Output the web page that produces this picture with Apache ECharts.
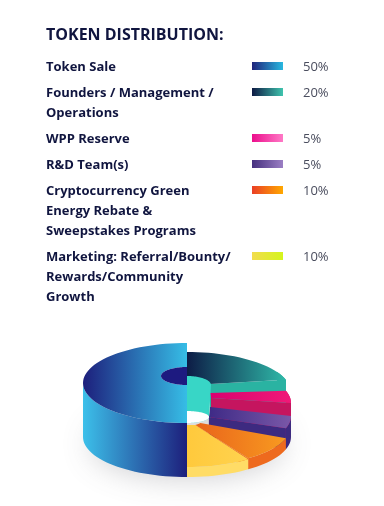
<!DOCTYPE html>
<html>
<head>
<meta charset="utf-8">
<style>
  html, body { margin: 0; padding: 0; background: #fff; }
  #chart { width: 384px; height: 506px; }
</style>
<script src="https://cdn.jsdelivr.net/npm/echarts@6/dist/echarts.min.js"></script>
</head>
<body>
<div id="chart"></div>
<script>
var chartTitle = "TOKEN DISTRIBUTION:";
var categories = [
  ["Token Sale"],
  ["Founders / Management /", "Operations"],
  ["WPP Reserve"],
  ["R&D Team(s)"],
  ["Cryptocurrency Green", "Energy Rebate &", "Sweepstakes Programs"],
  ["Marketing: Referral/Bounty/", "Rewards/Community", "Growth"],
];
var shares = [50, 20, 5, 5, 10, 10];

// 图例色条的渐变
var swatchColors = [
  ["#20247c", "#29b8e0"],
  ["#0e1a44", "#3fc4ae"],
  ["#ec0e8c", "#ff79c6"],
  ["#46307f", "#9b7fc4"],
  ["#ea3f26", "#ffa800"],
  ["#f2dc4e", "#d4f51c"],
];

// 每一块的立体样式:顶面渐变、侧面颜色、顶面中心 y、内缘两端的 y、内缘横向半径
var sliceStyles = [
  { top: ["#1d1f7c", "#36bde6"], side: ["#3cc0ea", "#1d1f7c"], topY: 383, inner: [376, 376], innerRx: 26 },
  { top: ["#0d1c46", "#2fb9a8"], side: ["#2ab3a2", "#2ab3a2"], topY: 392, inner: [376, 384], innerRx: 24 },
  { top: ["#d9006f", "#f01a78"], side: ["#c5155f", "#c5155f"], topY: 403, inner: [393, 398], innerRx: 24 },
  { top: ["#3e2a86", "#7a58a8"], side: ["#3d2a80", "#3d2a80"], topY: 416, inner: [407, 417], innerRx: 23 },
  { top: ["#e9641b", "#f89a20"], side: ["#ee6a1e", "#ee6a1e"], topY: 426, inner: [423, 425], innerRx: 14 },
  { top: ["#ffc93c", "#ffd34f"], side: ["#ffdc66", "#ffd650"], topY: 427, inner: [425, 425], innerRx: 14 },
];

var centerX = 187;
var radiusX = 104;
var radiusY = 40;
var baseY = 437;
var holeRx = 24;
var holeRy = 9;
var textColor = "#10153f";

function hGrad(pair) {
  return new echarts.graphic.LinearGradient(0, 0, 1, 0, [
    { offset: 0, color: pair[0] },
    { offset: 1, color: pair[1] },
  ]);
}

// 角度从 12 点方向顺时针算
function ringPoint(angle, rx, ry, cy) {
  var rad = (angle * Math.PI) / 180;
  return [centerX + rx * Math.sin(rad), cy - ry * Math.cos(rad)];
}

function arcPoints(a0, a1, rx, ry, cy) {
  var points = [];
  var steps = Math.max(4, Math.round(Math.abs(a1 - a0) / 3));
  for (var i = 0; i <= steps; i++) {
    points.push(ringPoint(a0 + ((a1 - a0) * i) / steps, rx, ry, cy));
  }
  return points;
}

function poly(points, fill) {
  return { type: "polygon", shape: { points: points }, style: { fill: fill } };
}

// 50% 的那块从 -180 度开始,其它块接在右半边
function sliceAngles() {
  var total = shares.reduce(function (a, b) { return a + b; }, 0);
  var angle = -180;
  return shares.map(function (value) {
    var start = angle;
    angle += (value / total) * 360;
    return [start, angle];
  });
}

var angles = sliceAngles();

function innerEdge(a0, a1, style) {
  // 内缘从 a1 走回 a0,y 在两端之间过渡
  var points = [];
  for (var i = 0; i <= 8; i++) {
    var t = i / 8;
    var rad = ((a1 + (a0 - a1) * t) * Math.PI) / 180;
    var y = style.inner[1] + (style.inner[0] - style.inner[1]) * t;
    points.push([centerX + style.innerRx * Math.sin(rad), y]);
  }
  return points;
}

function renderSlice(params) {
  var idx = params.dataIndex;
  var a0 = angles[idx][0];
  var a1 = angles[idx][1];
  var style = sliceStyles[idx];
  var children = [];

  if (idx === 0) {
    // 左半块只露出圆柱外壁
    children.push(
      poly(
        arcPoints(-90, -180, radiusX, radiusY, style.topY).concat(
          arcPoints(-180, -90, radiusX, radiusY, baseY)
        ),
        hGrad(style.side)
      )
    );
  } else {
    var from = Math.max(a0, 60);
    if (a1 > from) {
      children.push(
        poly(
          arcPoints(from, a1, radiusX, radiusY, style.topY).concat(
            arcPoints(a1, from, radiusX, radiusY, baseY)
          ),
          style.side[0]
        )
      );
    }
    // 顺时针方向末端的切面
    var outerTop = ringPoint(a1, radiusX, radiusY, style.topY);
    var outerBot = ringPoint(a1, radiusX, radiusY, baseY);
    var innerTop = [centerX + style.innerRx * Math.sin((a1 * Math.PI) / 180), style.inner[1]];
    var innerBot = [innerTop[0], baseY];
    children.push(poly([innerTop, outerTop, outerBot, innerBot], style.side[0]));
  }

  // 顶面
  var outer = arcPoints(a0, a1, radiusX, radiusY, style.topY);
  var inner;
  if (idx === 0) {
    inner = arcPoints(a1, a0, style.innerRx, holeRy, style.inner[0]);
  } else {
    inner = innerEdge(a0, a1, style);
  }
  children.push(poly(outer.concat(inner), hGrad(style.top)));

  if (idx === 0) {
    // 中间的孔(左半)
    children.push(
      poly(arcPoints(-180, 0, style.innerRx, holeRy, style.inner[0]), "#1d1a80")
    );
  }
  return { type: "group", children: children };
}

// 右半边的内孔壁,画在所有块之后
function holeWall() {
  var wallY = 385;
  var bottomY = 417;
  return [
    {
      type: "polygon",
      z: 5,
      shape: {
        points: arcPoints(0, 90, holeRx, holeRy, wallY).concat(
          arcPoints(90, 180, holeRx - 2, 6, bottomY)
        ),
      },
      style: { fill: "#38d6c6" },
    },
    {
      type: "polygon",
      z: 6,
      shape: { points: arcPoints(0, 180, holeRx - 2, 6, bottomY) },
      style: { fill: "#ffffff" },
    },
  ];
}

function legendGraphics() {
  var items = [
    {
      type: "text",
      x: 46,
      y: 35,
      style: {
        text: chartTitle,
        fill: textColor,
        font: "700 16px 'Open Sans'",
        verticalAlign: "middle",
      },
    },
  ];
  var rowY = 66;
  var lineGap = 20;
  categories.forEach(function (lines, i) {
    lines.forEach(function (line, k) {
      items.push({
        type: "text",
        x: 46,
        y: rowY + 1 + k * lineGap,
        style: {
          text: line,
          fill: textColor,
          font: "700 13px 'Open Sans'",
          verticalAlign: "middle",
        },
      });
    });
    items.push({
      type: "rect",
      shape: { x: 252, y: rowY - 4, width: 31, height: 8 },
      style: { fill: hGrad(swatchColors[i]) },
    });
    items.push({
      type: "text",
      x: 303,
      y: rowY + 1,
      style: {
        text: shares[i] + "%",
        fill: "#4a4d5e",
        font: "400 13px 'Open Sans'",
        verticalAlign: "middle",
      },
    });
    rowY += lines.length * lineGap + 6;
  });
  // 饼图下面的阴影,椭圆本身藏在饼下面
  items.push({
    type: "ellipse",
    z: -1,
    shape: { cx: 187, cy: 440, rx: 96, ry: 34 },
    style: {
      fill: "#dddddd",
      shadowBlur: 30,
      shadowOffsetY: 4,
      shadowColor: "rgba(90,90,100,0.3)",
    },
  });
  return items.concat(holeWall());
}

var option = {
  animation: false,
  backgroundColor: "#ffffff",
  graphic: legendGraphics(),
  series: [
    {
      type: "custom",
      coordinateSystem: "none",
      z: 3,
      silent: true,
      renderItem: renderSlice,
      data: shares,
    },
  ],
};

var myChart = echarts.init(document.getElementById("chart"), null, {
  renderer: "canvas",
});
myChart.setOption(option);
</script>
</body>
</html>
